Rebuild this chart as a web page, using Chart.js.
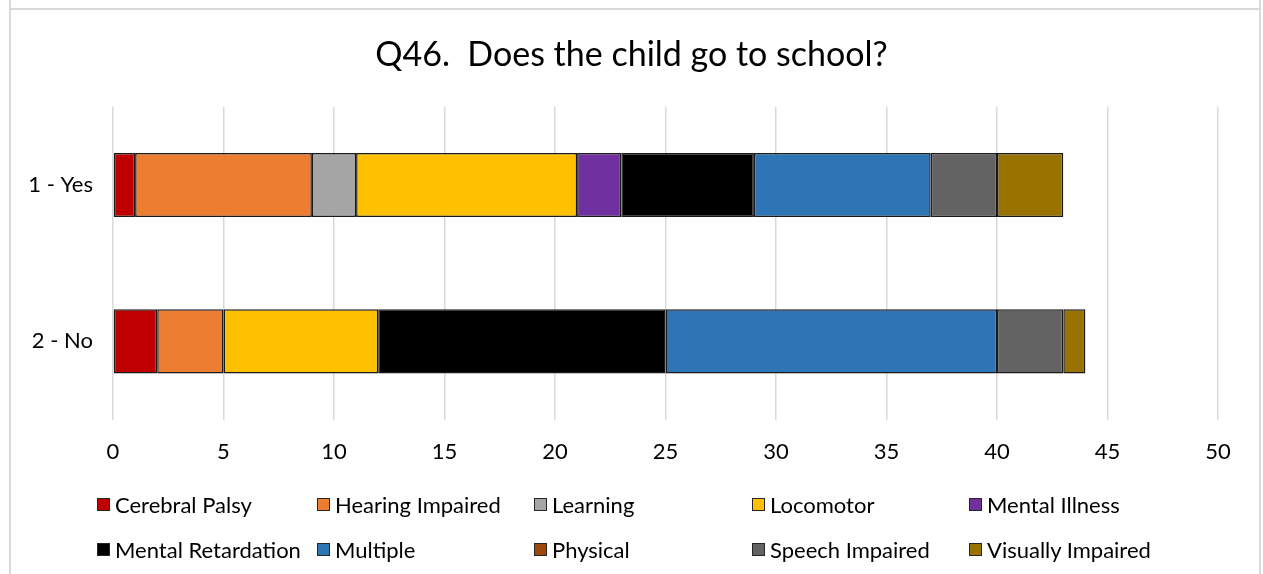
<!DOCTYPE html>
<html>
<head>
<meta charset="utf-8">
<script src="https://cdn.jsdelivr.net/npm/chart.js@4/dist/chart.umd.min.js"></script>
<style>
  html, body { margin: 0; padding: 0; background: #fff; }
  #wrap { position: relative; width: 1263px; height: 574px; overflow: hidden; background: #fff; }
  #c { position: absolute; left: 0; top: 0; }
  .vl { position: absolute; top: 0; width: 2px; height: 574px; background: #d9d9d9; }
  .hl { position: absolute; left: 9px; top: 8px; width: 1252px; height: 2px; background: #d9d9d9; }
  #legend { position: absolute; left: 0; top: 0; width: 1263px; height: 574px; pointer-events: none;
            font-family: Lato, "Open Sans", sans-serif; font-size: 22px; color: #000; }
  .li { position: absolute; display: flex; align-items: center; white-space: nowrap; height: 26px; }
  .bx { width: 11px; height: 11px; border: 1.5px solid #262626; margin-right: 5px; box-sizing: content-box; }
</style>
</head>
<body>
<div id="wrap">
  <canvas id="c" width="1263" height="574"></canvas>
  <div class="vl" style="left:9px"></div>
  <div class="vl" style="left:1259px"></div>
  <div class="hl"></div>
  <div id="legend"></div>
</div>
<script>
const titleText = "Q46.  Does the child go to school?";
const categories = ["1 - Yes", "2 - No"];
const seriesNames = ["Cerebral Palsy", "Hearing Impaired", "Learning", "Locomotor", "Mental Illness",
                     "Mental Retardation", "Multiple", "Physical", "Speech Impaired", "Visually Impaired"];
const cerebralPalsy     = [1, 2];
const hearingImpaired   = [8, 3];
const learning          = [2, 0];
const locomotor         = [10, 7];
const mentalIllness     = [2, 0];
const mentalRetardation = [6, 13];
const multiple          = [8, 15];
const physical          = [0, 0];
const speechImpaired    = [3, 3];
const visuallyImpaired  = [3, 1];
const xTicks = [0, 5, 10, 15, 20, 25, 30, 35, 40, 45, 50];

const seriesValues = [cerebralPalsy, hearingImpaired, learning, locomotor, mentalIllness,
                      mentalRetardation, multiple, physical, speechImpaired, visuallyImpaired];
const colors = ["#C00000", "#ED7D31", "#A5A5A5", "#FFC000", "#7030A0",
                "#000000", "#2E75B6", "#9E480E", "#636363", "#997300"];

const FONT = "Lato, 'Open Sans', sans-serif";

const datasets = seriesNames.map((n, i) => ({
  label: n,
  data: seriesValues[i],
  backgroundColor: colors[i],
  borderColor: "#1a1a1a",
  borderWidth: 1.5,
  borderSkipped: false,
  categoryPercentage: 1,
  barPercentage: 0.41
}));

const chart = new Chart(document.getElementById("c"), {
  type: "bar",
  data: { labels: categories, datasets },
  options: {
    indexAxis: "y",
    responsive: false,
    animation: false,
    layout: { padding: { left: 0, right: 0, top: 0, bottom: 90 } },
    plugins: {
      legend: { display: false },
      tooltip: { enabled: false },
      title: {
        display: true,
        text: titleText,
        color: "#000",
        font: { family: FONT, size: 34, weight: "normal", lineHeight: 1.2 },
        padding: { top: 35, bottom: 31 }
      }
    },
    scales: {
      x: {
        stacked: true,
        min: 0, max: 50,
        afterBuildTicks: (s) => { s.ticks = xTicks.map(v => ({ value: v })); },
        grid: { color: "#d9d9d9", lineWidth: 1.5, drawTicks: false },
        border: { display: false },
        ticks: { color: "#000", padding: 19, font: { family: FONT, size: 22 } }
      },
      y: {
        stacked: true,
        afterFit: (s) => { s.width = 113; },
        grid: { display: false, drawTicks: false },
        border: { display: false },
        ticks: { color: "#000", padding: 20, font: { family: FONT, size: 22 } }
      },
      yRightSpace: {
        type: "category",
        position: "right",
        labels: categories,
        afterFit: (s) => { s.width = 45; },
        grid: { display: false, drawTicks: false },
        border: { display: false },
        ticks: { display: false }
      }
    }
  }
});

// HTML legend built from the chart's datasets, in Excel-like column grid
const legendCols = [97, 317, 534, 752, 969];
const legendRows = [491, 536];
const leg = document.getElementById("legend");
chart.data.datasets.forEach((ds, i) => {
  const row = Math.floor(i / 5), col = i % 5;
  const el = document.createElement("div");
  el.className = "li";
  el.style.left = legendCols[col] + "px";
  el.style.top = legendRows[row] + "px";
  const b = document.createElement("span");
  b.className = "bx";
  b.style.background = ds.backgroundColor;
  const t = document.createElement("span");
  t.textContent = ds.label;
  el.appendChild(b); el.appendChild(t);
  leg.appendChild(el);
});
</script>
</body>
</html>
